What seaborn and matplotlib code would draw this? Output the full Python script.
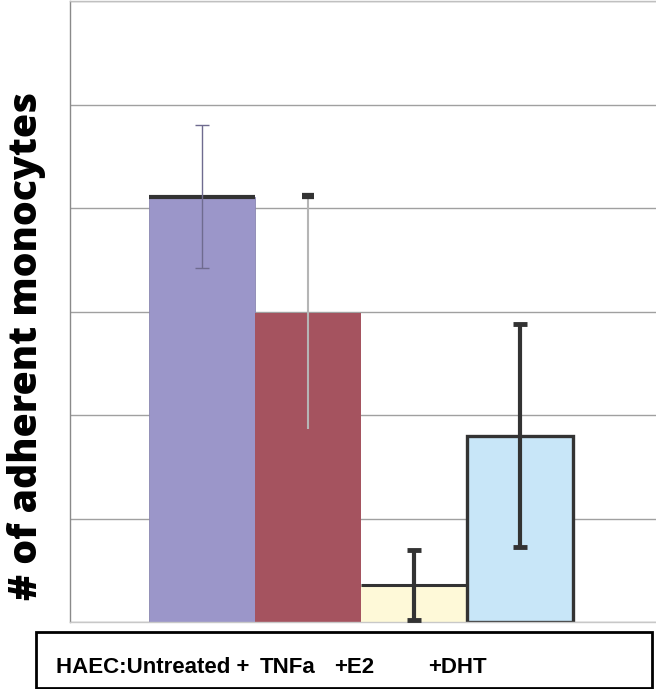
import matplotlib
matplotlib.use("Agg")
import matplotlib.pyplot as plt
import seaborn as sns
import pandas as pd
from matplotlib.patches import Rectangle

categories = ["HAEC:Untreated +", "TNFa", "+E2", "+DHT"]
values = [4.11, 2.99, 0.36, 1.80]
errors = [0.69, 1.13, 0.34, 1.08]
colors = ["#9B96C9", "#A5535F", "#FEF9D8", "#C8E6F8"]
y_label = "# of adherent monocytes"
grid_ticks = [0, 1, 2, 3, 4, 5, 6]

sns.set_theme(style="white")
plt.rcParams["font.family"] = ["Liberation Sans", "DejaVu Sans"]

fig = plt.figure(figsize=(6.56, 6.89), dpi=100)
ax = fig.add_axes([70 / 656, 1 - 622 / 689, 1 - 70 / 656, 621 / 689])

df = pd.DataFrame({"cat": categories, "val": values})
sns.barplot(data=df, x="cat", y="val", hue="cat", palette=colors, width=1.0,
            saturation=1.0, legend=False, ax=ax, zorder=2, linewidth=0, errorbar=None)

ax.set_ylim(grid_ticks[0], grid_ticks[-1])
ax.set_xlim(-1.245, 3 + (656 - 520) / 106)
ax.set_yticks(grid_ticks)
ax.yaxis.grid(True, color="#a0a0a0", linewidth=1.0, zorder=0)
ax.set_axisbelow(True)
ax.tick_params(axis="y", length=9.5, color="#a0a0a0", width=1.0, labelleft=False, direction="out")
ax.tick_params(axis="x", length=0, labelbottom=False)
ax.set_xlabel("")
ax.set_ylabel("")
for s in ["right"]:
    ax.spines[s].set_visible(False)
ax.spines["top"].set_color("#c0c0c0")
ax.spines["top"].set_linewidth(1.0)
ax.spines["left"].set_color("#8a8a8a")
ax.spines["left"].set_linewidth(1.0)
ax.spines["bottom"].set_color("#c8c8c8")
ax.spines["bottom"].set_linewidth(1.0)

patches = ax.patches
patches[0].set_edgecolor("#8a86b0"); patches[0].set_linewidth(0.6)
patches[3].set_edgecolor("#333333"); patches[3].set_linewidth(2.4)
ax.hlines(values[0], -0.5, 0.5, color="#333333", linewidth=3.0, zorder=3)
ax.hlines(values[2], 1.5, 2.5, color="#333333", linewidth=2.2, zorder=3)

ax.errorbar(0, values[0], yerr=errors[0], fmt="none", ecolor="#6f6b8f",
            elinewidth=1.0, capsize=5, capthick=1.0, zorder=4)
ax.errorbar(1, values[1], yerr=errors[1], fmt="none", ecolor="#b5b5b5",
            elinewidth=1.5, capsize=0, zorder=4)
ax.plot([1], [values[1] + errors[1]], marker="_", ms=8, mew=4.5, color="#333333", zorder=5)
for i in (2, 3):
    ax.errorbar(i, values[i], yerr=errors[i], fmt="none", ecolor="#333333",
                elinewidth=3.0, capsize=5, capthick=3.5, zorder=4)

fig.text(27 / 656, 1 - 346 / 689, y_label, rotation=90, ha="center", va="center",
         fontsize=28.3, fontweight="heavy", color="black",
         family=["Open Sans", "DejaVu Sans"])

fig.patches.append(Rectangle((36 / 656, 1 - 688 / 689), 616 / 656, 56 / 689,
                             transform=fig.transFigure, fill=False,
                             edgecolor="black", linewidth=2.0))
label_x = [56, 260, 334, 428]
for lx, lab in zip(label_x, categories):
    fig.text(lx / 656, 1 - 673 / 689, lab, ha="left", va="baseline",
             fontsize=16, fontweight="bold", color="black",
             family=["Liberation Sans", "DejaVu Sans"])

fig.savefig("out.png", dpi=100)
